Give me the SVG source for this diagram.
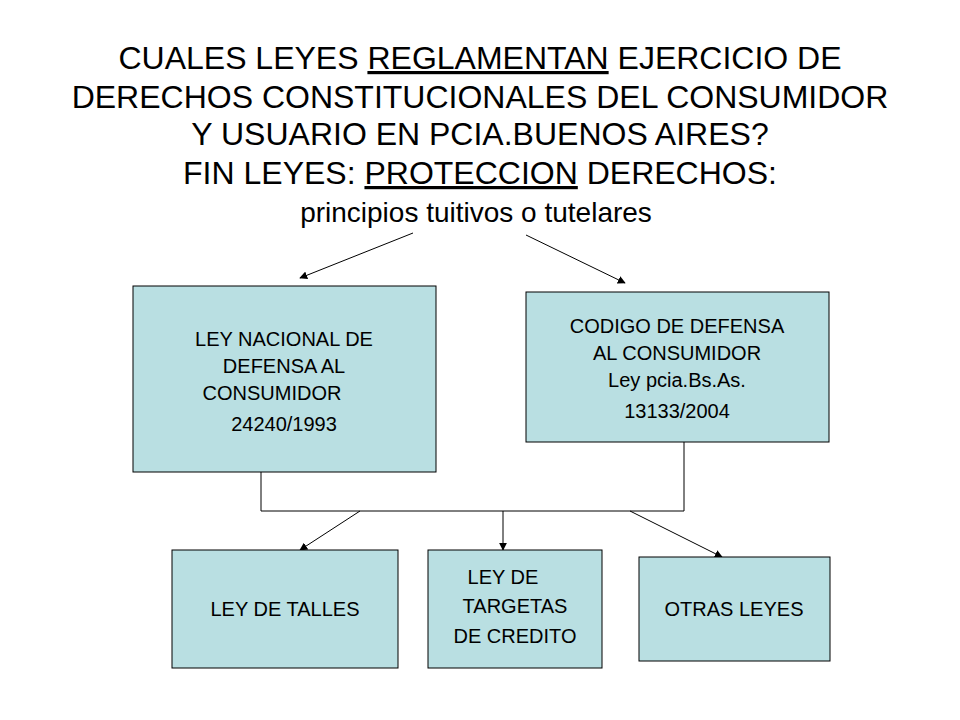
<svg xmlns="http://www.w3.org/2000/svg" width="960" height="720" viewBox="0 0 960 720">
<style>
.t{font-family:"Liberation Sans",Arial,sans-serif;font-size:32px;fill:#000;text-anchor:middle}
.b{fill:#b9dfe2;stroke:#000;stroke-width:1}
.l{font-family:"Liberation Sans",Arial,sans-serif;font-size:20px;fill:#000;text-anchor:middle}
.c{stroke:#000;stroke-width:1;fill:none}
</style>
<defs><marker id="a" viewBox="0 0 10 10" refX="9" refY="5" markerWidth="8" markerHeight="8" orient="auto"><path d="M0,0L10,5L0,10z" fill="#000"/></marker></defs>
<rect width="960" height="720" fill="#fff"/>
<g id="title">
<text class="t" x="480" y="69">CUALES LEYES <tspan text-decoration="underline">REGLAMENTAN</tspan> EJERCICIO DE</text>
<text class="t" x="480" y="108">DERECHOS CONSTITUCIONALES DEL CONSUMIDOR</text>
<text class="t" x="480" y="145">Y USUARIO EN PCIA.BUENOS AIRES?</text>
<text class="t" x="480" y="184">FIN LEYES: <tspan text-decoration="underline">PROTECCION</tspan> DERECHOS:</text>
<text class="t" x="476" y="222" style="font-size:28px">principios tuitivos o tutelares</text>
</g>
<g id="connectors">
<line class="c" x1="413" y1="233" x2="300" y2="278" marker-end="url(#a)"/>
<line class="c" x1="526" y1="235" x2="625" y2="283" marker-end="url(#a)"/>
<polyline class="c" points="261,472 261,511 684,511 684,442"/>
<line class="c" x1="360" y1="511" x2="300" y2="550" marker-end="url(#a)"/>
<line class="c" x1="503" y1="511" x2="503" y2="550" marker-end="url(#a)"/>
<line class="c" x1="630" y1="511" x2="722" y2="557" marker-end="url(#a)"/>
</g>
<g id="n1"><rect class="b" x="133" y="286" width="303" height="186"/>
<text class="l" x="284" y="346">LEY NACIONAL DE</text><text class="l" x="284" y="373">DEFENSA AL</text><text class="l" x="272" y="400">CONSUMIDOR</text><text class="l" x="284" y="431">24240/1993</text></g>
<g id="n2"><rect class="b" x="526" y="292" width="303" height="150"/>
<text class="l" x="677" y="333">CODIGO DE DEFENSA</text><text class="l" x="677" y="360">AL CONSUMIDOR</text><text class="l" x="677" y="387">Ley pcia.Bs.As.</text><text class="l" x="677" y="418">13133/2004</text></g>
<g id="n3"><rect class="b" x="172" y="550" width="226" height="118"/><text class="l" x="285" y="616">LEY DE TALLES</text></g>
<g id="n4"><rect class="b" x="428" y="550" width="174" height="118"/>
<text class="l" x="503" y="584">LEY DE</text><text class="l" x="515" y="613">TARGETAS</text><text class="l" x="515" y="643">DE CREDITO</text></g>
<g id="n5"><rect class="b" x="639" y="557" width="191" height="104"/><text class="l" x="734" y="616">OTRAS LEYES</text></g>
</svg>
